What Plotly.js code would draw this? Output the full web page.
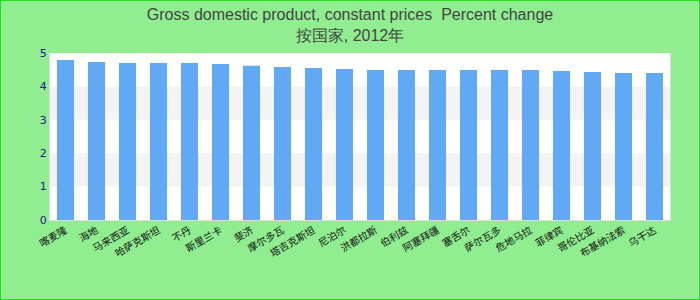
<!DOCTYPE html>
<html>
<head>
<meta charset="utf-8">
<script src="https://cdn.plot.ly/plotly-3.0.1.min.js"></script>
<style>
html,body{margin:0;padding:0;background:#90ee90;}
#chart{width:698px;height:298px;border:1px solid #22dd22;}
</style>
</head>
<body>
<div id="chart"></div>
<script>
const categories = ["喀麦隆","海地","马来西亚","哈萨克斯坦","不丹","斯里兰卡","斐济","摩尔多瓦","塔吉克斯坦","尼泊尔","洪都拉斯","伯利兹","阿塞拜疆","塞舌尔","萨尔瓦多","危地马拉","菲律宾","哥伦比亚","布基纳法索","乌干达"];
const values = [4.79, 4.73, 4.70, 4.70, 4.70, 4.67, 4.62, 4.58, 4.55, 4.52, 4.49, 4.49, 4.49, 4.49, 4.49, 4.49, 4.46, 4.43, 4.40, 4.40];
const yTicks = [0, 1, 2, 3, 4, 5];
const bands = [[1, 2], [3, 4]];
const titleText = "Gross domestic product, constant prices  Percent change<br>按国家, 2012年";

const shapes = bands.map(b => ({
  type: "rect", xref: "paper", yref: "y", x0: 0, x1: 1, y0: b[0], y1: b[1],
  fillcolor: "#f3f3f3", line: {width: 0}, layer: "below"
}));

Plotly.newPlot("chart", [{
  type: "bar",
  x: categories,
  y: values,
  marker: {color: "#62a9f5"},
  hoverinfo: "x+y"
}], {
  width: 698, height: 298,
  paper_bgcolor: "#90ee90",
  plot_bgcolor: "#ffffff",
  margin: {l: 49, r: 29, t: 52, b: 79},
  bargap: 0.45,
  shapes: shapes,
  title: {
    text: titleText,
    font: {family: "Liberation Sans, Arial, sans-serif", size: 16, color: "#444444"},
    x: 0.5, xref: "container", xanchor: "center",
    y: 0.935, yref: "container", yanchor: "middle"
  },
  xaxis: {
    type: "category",
    tickangle: -30,
    tickfont: {family: "Noto Sans CJK SC, sans-serif", size: 10, color: "#111111"},
    showline: true, linecolor: "#dddddd", linewidth: 1,
    showgrid: false, ticks: "", automargin: false
  },
  yaxis: {
    range: [0, 5],
    tickvals: yTicks,
    tickfont: {family: "DejaVu Sans, sans-serif", size: 11, color: "#1a1a8c"},
    showgrid: false, zeroline: false,
    showline: true, linecolor: "#dddddd", linewidth: 1, mirror: true,
    ticks: "", automargin: false
  },
  showlegend: false
}, {displayModeBar: false, staticPlot: true});
</script>
</body>
</html>
